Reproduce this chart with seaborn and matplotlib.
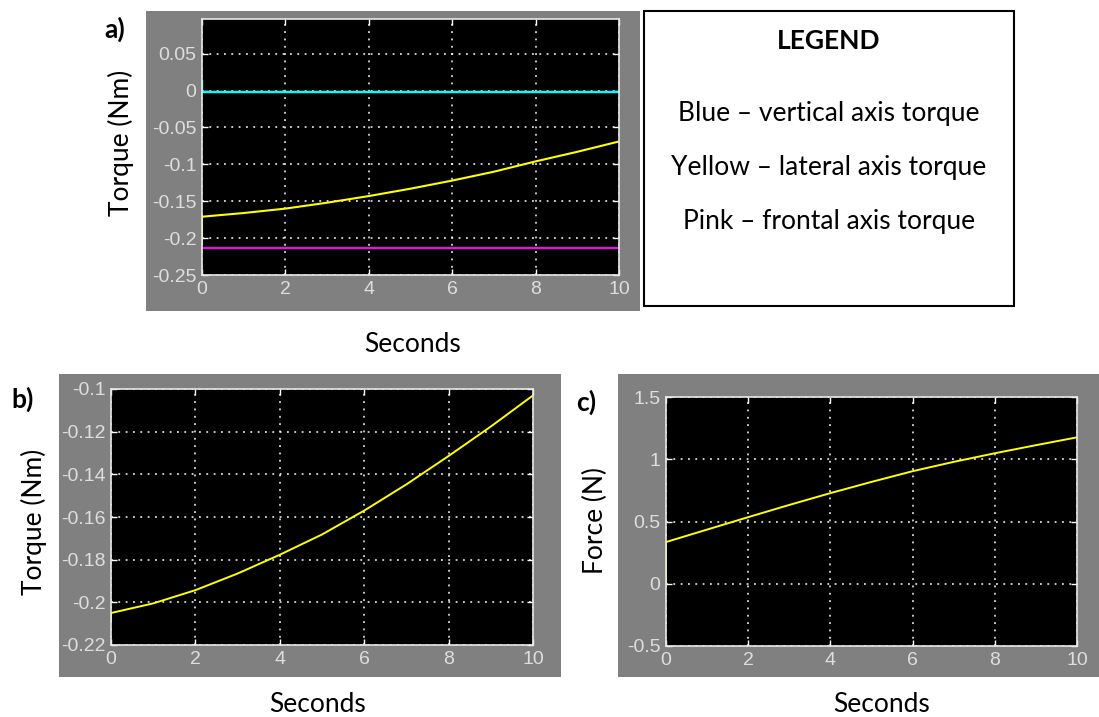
import matplotlib
matplotlib.use("Agg")
import matplotlib.pyplot as plt
from matplotlib.patches import Rectangle
import seaborn as sns

# ---- data -------------------------------------------------------------
# a) three torque channels (the repeated t=0 gives the initial step)
t_a = [0, 0, 1, 2, 3, 4, 5, 6, 7, 8, 9, 10]
lateral_torque = [-0.208, -0.171, -0.166, -0.160, -0.152, -0.143, -0.133,
                  -0.122, -0.110, -0.096, -0.083, -0.069]
t_flat = [0, 0, 10]
vertical_torque = [0.013, -0.002, -0.002]
frontal_torque = [-0.207, -0.213, -0.213]

# b) torque
t_b = [0, 0, 1, 2, 3, 4, 5, 6, 7, 8, 9, 10]
torque_b = [-0.2085, -0.205, -0.2005, -0.1943, -0.1865, -0.1777, -0.1682,
            -0.1570, -0.1447, -0.1314, -0.1176, -0.103]

# c) force
t_c = [0, 0, 1, 2, 3, 4, 5, 6, 7, 8, 9, 10]
force_c = [0.0, 0.335, 0.435, 0.535, 0.633, 0.728, 0.818, 0.904, 0.979,
           1.048, 1.113, 1.176]

x_ticks = [0, 2, 4, 6, 8, 10]
y_ticks_a = [-0.25, -0.2, -0.15, -0.1, -0.05, 0, 0.05]
y_labels_a = ["-0.25", "-0.2", "-0.15", "-0.1", "-0.05", "0", "0.05"]
y_ticks_b = [-0.22, -0.2, -0.18, -0.16, -0.14, -0.12, -0.1]
y_labels_b = ["-0.22", "-0.2", "-0.18", "-0.16", "-0.14", "-0.12", "-0.1"]
y_ticks_c = [-0.5, 0, 0.5, 1, 1.5]
y_labels_c = ["-0.5", "0", "0.5", "1", "1.5"]

legend_lines = ["Blue \u2013 vertical axis torque",
                "Yellow \u2013 lateral axis torque",
                "Pink \u2013 frontal axis torque"]

# ---- layout helpers ---------------------------------------------------
W, H = 1099, 717
TEXT_FONT = ["Lato", "DejaVu Sans"]
TICK_FONT = ["Liberation Sans", "DejaVu Sans"]
SCOPE_GRAY = "#808080"
LABEL_SIZE = 19

# tick labels use the scope font; other texts name their own family
plt.rcParams["font.family"] = TICK_FONT

fig = plt.figure(figsize=(W / 100, H / 100), dpi=100)
fig.patch.set_facecolor("white")


def px_rect(x0, y0, x1, y1):
    return [x0 / W, 1 - y1 / H, (x1 - x0) / W, (y1 - y0) / H]


def gray_panel(x0, y0, x1, y1):
    l, b, w, h = px_rect(x0, y0, x1, y1)
    fig.patches.append(Rectangle((l, b), w, h, transform=fig.transFigure,
                                 facecolor=SCOPE_GRAY, edgecolor="none",
                                 zorder=-10))


def fig_text(x, y, s, **kw):
    fig.text(x / W, 1 - y / H, s, ha="center", va="center",
             family=TEXT_FONT, color="black", **kw)


def scope_axes(rect, ylim, yticks, ylabels):
    ax = fig.add_axes(px_rect(*rect))
    ax.set_facecolor("black")
    ax.set_xlim(0, 10)
    ax.set_ylim(*ylim)
    ax.set_xticks(x_ticks)
    ax.set_xticklabels([str(v) for v in x_ticks])
    ax.set_yticks(yticks)
    ax.set_yticklabels(ylabels)
    ax.grid(True, color="white", linestyle=(0, (1.2, 3.6)), linewidth=1.1)
    ax.set_axisbelow(True)
    for sp in ax.spines.values():
        sp.set_color("#e8e8e8")
        sp.set_linewidth(1.2)
    ax.tick_params(direction="in", length=4, width=1, color="white",
                   labelcolor="#dedede", labelsize=14, pad=4,
                   top=True, right=True)
    return ax


def finish(ax, ylim):
    ax.set_xlim(0, 10)
    ax.set_ylim(*ylim)
    ax.set_xlabel("")
    ax.set_ylabel("")


# ---- panel a ----------------------------------------------------------
gray_panel(146, 11, 640, 311)
ylim_a = (-0.25, 0.097)
ax_a = scope_axes((202, 19, 619, 275), ylim_a, y_ticks_a, y_labels_a)
sns.lineplot(x=t_flat, y=frontal_torque, ax=ax_a, color="#ff00ff",
             linewidth=1.5, estimator=None, sort=False)
sns.lineplot(x=t_a, y=lateral_torque, ax=ax_a, color="#ffff00",
             linewidth=1.5, estimator=None, sort=False)
sns.lineplot(x=t_flat, y=vertical_torque, ax=ax_a, color="#00ffff",
             linewidth=1.7, estimator=None, sort=False)
finish(ax_a, ylim_a)

fig_text(115, 29, "a)", fontsize=LABEL_SIZE, fontweight="bold")
fig_text(121, 143, "Torque (Nm)", fontsize=LABEL_SIZE, rotation=90)
fig_text(413, 345, "Seconds", fontsize=LABEL_SIZE)

# legend box
l, b, w, h = px_rect(644, 11, 1014, 306)
fig.patches.append(Rectangle((l, b), w, h, transform=fig.transFigure,
                             facecolor="white", edgecolor="black",
                             linewidth=1.5, zorder=1))
fig_text(829, 41, "LEGEND", fontsize=LABEL_SIZE, fontweight="bold")
for y, s in zip([113, 168, 222], legend_lines):
    fig_text(829, y, s, fontsize=LABEL_SIZE)

# ---- panel b ----------------------------------------------------------
gray_panel(59, 374, 561, 677)
ylim_b = (-0.22, -0.1)
ax_b = scope_axes((111, 389, 533, 645), ylim_b, y_ticks_b, y_labels_b)
sns.lineplot(x=t_b, y=torque_b, ax=ax_b, color="#ffff00", linewidth=1.4,
             estimator=None, sort=False)
finish(ax_b, ylim_b)

fig_text(23, 399, "b)", fontsize=LABEL_SIZE, fontweight="bold")
fig_text(34, 522, "Torque (Nm)", fontsize=LABEL_SIZE, rotation=90)
fig_text(318, 705, "Seconds", fontsize=LABEL_SIZE)

# ---- panel c ----------------------------------------------------------
gray_panel(618, 374, 1099, 677)
ylim_c = (-0.5, 1.5)
ax_c = scope_axes((666, 397, 1077, 646), ylim_c, y_ticks_c, y_labels_c)
sns.lineplot(x=t_c, y=force_c, ax=ax_c, color="#ffff00", linewidth=1.4,
             estimator=None, sort=False)
finish(ax_c, ylim_c)

fig_text(586, 402, "c)", fontsize=LABEL_SIZE, fontweight="bold")
fig_text(595, 521, "Force (N)", fontsize=LABEL_SIZE, rotation=90)
fig_text(882, 705, "Seconds", fontsize=LABEL_SIZE)

fig.savefig("out.png", dpi=100, facecolor="white")
